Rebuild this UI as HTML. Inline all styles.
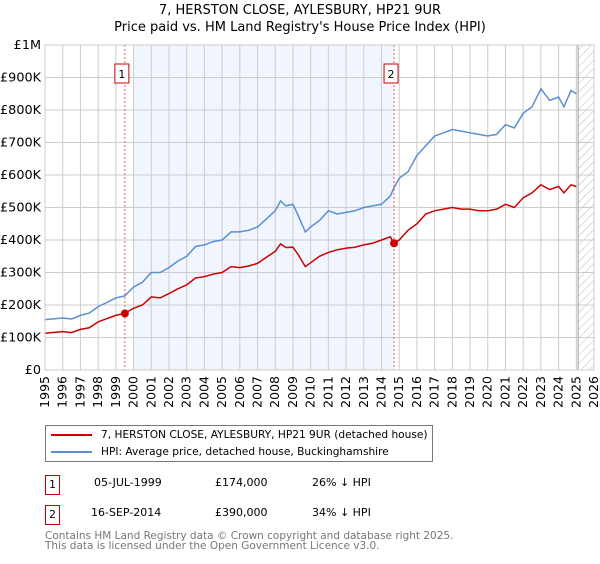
<!DOCTYPE html>
<html><head><meta charset="utf-8"><style>
body{margin:0;background:#fff;font-family:"DejaVu Sans","Liberation Sans",sans-serif;}
svg text{font-family:"DejaVu Sans","Liberation Sans",sans-serif;}
</style></head><body>
<svg id="c" width="600" height="560" xmlns="http://www.w3.org/2000/svg"></svg>
<script>
const years=[1995,1996,1996.5,1997,1997.5,1998,1998.5,1999,1999.5,2000,2000.5,2001,2001.5,2002,2002.5,2003,2003.5,2004,2004.5,2005,2005.5,2006,2006.5,2007,2007.5,2008,2008.3,2008.6,2009,2009.3,2009.7,2010,2010.5,2011,2011.5,2012,2012.5,2013,2013.5,2014,2014.5,2014.7,2015,2015.5,2016,2016.5,2017,2017.5,2018,2018.5,2019,2019.5,2020,2020.5,2021,2021.5,2022,2022.5,2023,2023.5,2024,2024.3,2024.7,2025];
const hpi=[155,160,157,168,175,195,208,222,228,255,270,300,300,315,335,350,380,385,395,400,425,425,430,440,465,490,520,505,510,475,425,440,460,490,480,485,490,500,505,510,535,560,590,610,660,690,720,730,740,735,730,725,720,725,755,745,790,810,865,830,840,810,860,850];
const price=[113,118,115,125,130,148,158,168,174,190,200,225,222,235,250,262,283,287,295,300,318,315,320,328,347,365,388,377,378,355,318,330,350,362,370,375,378,385,390,400,410,390,400,430,450,480,490,495,500,495,495,490,490,495,510,500,530,545,570,555,565,545,570,565];
const yTicks=[0,100,200,300,400,500,600,700,800,900,1000];
const yLabels=["£0","£100K","£200K","£300K","£400K","£500K","£600K","£700K","£800K","£900K","£1M"];
const xYears=[1995,1996,1997,1998,1999,2000,2001,2002,2003,2004,2005,2006,2007,2008,2009,2010,2011,2012,2013,2014,2015,2016,2017,2018,2019,2020,2021,2022,2023,2024,2025,2026];
const sales=[{n:"1",t:1999.51,v:174},{n:"2",t:2014.71,v:390}];
const L=45,R=594,T=45,B=370;
const X=y=>L+(y-1995)/(2026-1995)*(R-L);
const Y=v=>B-v/1000*(B-T);
const s=document.getElementById('c');const NS="http://www.w3.org/2000/svg";
function mk(tag,at,txt){const e=document.createElementNS(NS,tag);for(const k in at)e.setAttribute(k,at[k]);if(txt!=null)e.textContent=txt;s.appendChild(e);return e;}
let e;
e=mk('text',{x:300,y:14,'text-anchor':'middle','font-size':13},'7, HERSTON CLOSE, AYLESBURY, HP21 9UR');


e=mk('text',{x:300,y:31,'text-anchor':'middle','font-size':13},"Price paid vs. HM Land Registry's House Price Index (HPI)");


e=mk('rect',{x:X(2000),y:T,width:X(2014.71)-X(2000),height:B-T,fill:'#eef3fc',opacity:0.8});


const defs=mk('defs',{});defs.innerHTML='<pattern id="h" width="6" height="6" patternUnits="userSpaceOnUse" patternTransform="rotate(45)"><line x1="0" y1="0" x2="0" y2="6" stroke="#bbb" stroke-width="1"/></pattern>';
e=mk('rect',{x:X(2025.1),y:T,width:R-X(2025.1),height:B-T,fill:'url(#h)'});


yTicks.forEach((v,i)=>{e=mk('line',{x1:L,x2:R,y1:Y(v),y2:Y(v),stroke:'#ccc'});


e=mk('text',{x:L-4,y:Y(v)+4,'text-anchor':'end','font-size':12.8},yLabels[i]);

});
xYears.forEach(y=>{e=mk('line',{x1:X(y),x2:X(y),y1:T,y2:B,stroke:'#ccc'});


e=mk('text',{transform:`translate(${X(y)+4},${B+6}) rotate(-90)`,'text-anchor':'end','font-size':12.5},String(y));

});
e=mk('line',{x1:X(2025.1),x2:X(2025.1),y1:T,y2:B,stroke:'#999'});


const pts=a=>years.map((y,i)=>X(y).toFixed(1)+','+Y(a[i]).toFixed(1)).join(' ');
e=mk('polyline',{points:pts(hpi),fill:'none',stroke:'#5b8fd0','stroke-width':1.5});


e=mk('polyline',{points:pts(price),fill:'none',stroke:'#cc0000','stroke-width':1.5});


sales.forEach(p=>{e=mk('line',{x1:X(p.t),x2:X(p.t),y1:T,y2:B,stroke:'#e06060','stroke-dasharray':'2,2'});


e=mk('circle',{cx:X(p.t),cy:Y(p.v),r:4,fill:'#cc0000'});


e=mk('rect',{x:X(p.t)-10,y:64,width:14,height:19,fill:'#fff',stroke:'#cc0000'});


e=mk('text',{x:X(p.t)-3,y:78,'text-anchor':'middle','font-size':11},p.n);

});
e=mk('rect',{x:L,y:T,width:R-L,height:B-T,fill:'none',stroke:'#ccc'});


</script>
<div style="position:absolute;left:45px;top:425px;width:386px;height:35px;border:1px solid #777;font-size:10.6px;">
 <div style="position:absolute;left:5px;top:3px;white-space:nowrap"><span style="display:inline-block;width:41px;height:2px;background:#cc0000;vertical-align:middle;margin-right:9px"></span>7, HERSTON CLOSE, AYLESBURY, HP21 9UR (detached house)</div>
 <div style="position:absolute;left:5px;top:20px;white-space:nowrap"><span style="display:inline-block;width:41px;height:2px;background:#5b8fd0;vertical-align:middle;margin-right:9px"></span>HPI: Average price, detached house, Buckinghamshire</div>
</div>
<div style="position:absolute;left:0;top:0;font-size:11px;">
 <div>
  <div style="position:absolute;left:45px;top:475px;width:13px;height:18px;border:1px solid #cc0000;text-align:center;line-height:17px">1</div>
  <div style="position:absolute;left:94px;top:476px;white-space:nowrap">05-JUL-1999</div>
  <div style="position:absolute;left:215px;top:476px;white-space:nowrap">£174,000</div>
  <div style="position:absolute;left:312px;top:476px;white-space:nowrap">26% ↓ HPI</div>
 </div>
 <div>
  <div style="position:absolute;left:45px;top:505px;width:13px;height:18px;border:1px solid #cc0000;text-align:center;line-height:17px">2</div>
  <div style="position:absolute;left:91px;top:506px;white-space:nowrap">16-SEP-2014</div>
  <div style="position:absolute;left:215px;top:506px;white-space:nowrap">£390,000</div>
  <div style="position:absolute;left:312px;top:506px;white-space:nowrap">34% ↓ HPI</div>
 </div>
</div>
<div style="position:absolute;left:45px;top:531px;font-size:10.5px;color:#777;line-height:10px;white-space:nowrap">Contains HM Land Registry data © Crown copyright and database right 2025.<br>This data is licensed under the Open Government Licence v3.0.</div>
</body></html>
